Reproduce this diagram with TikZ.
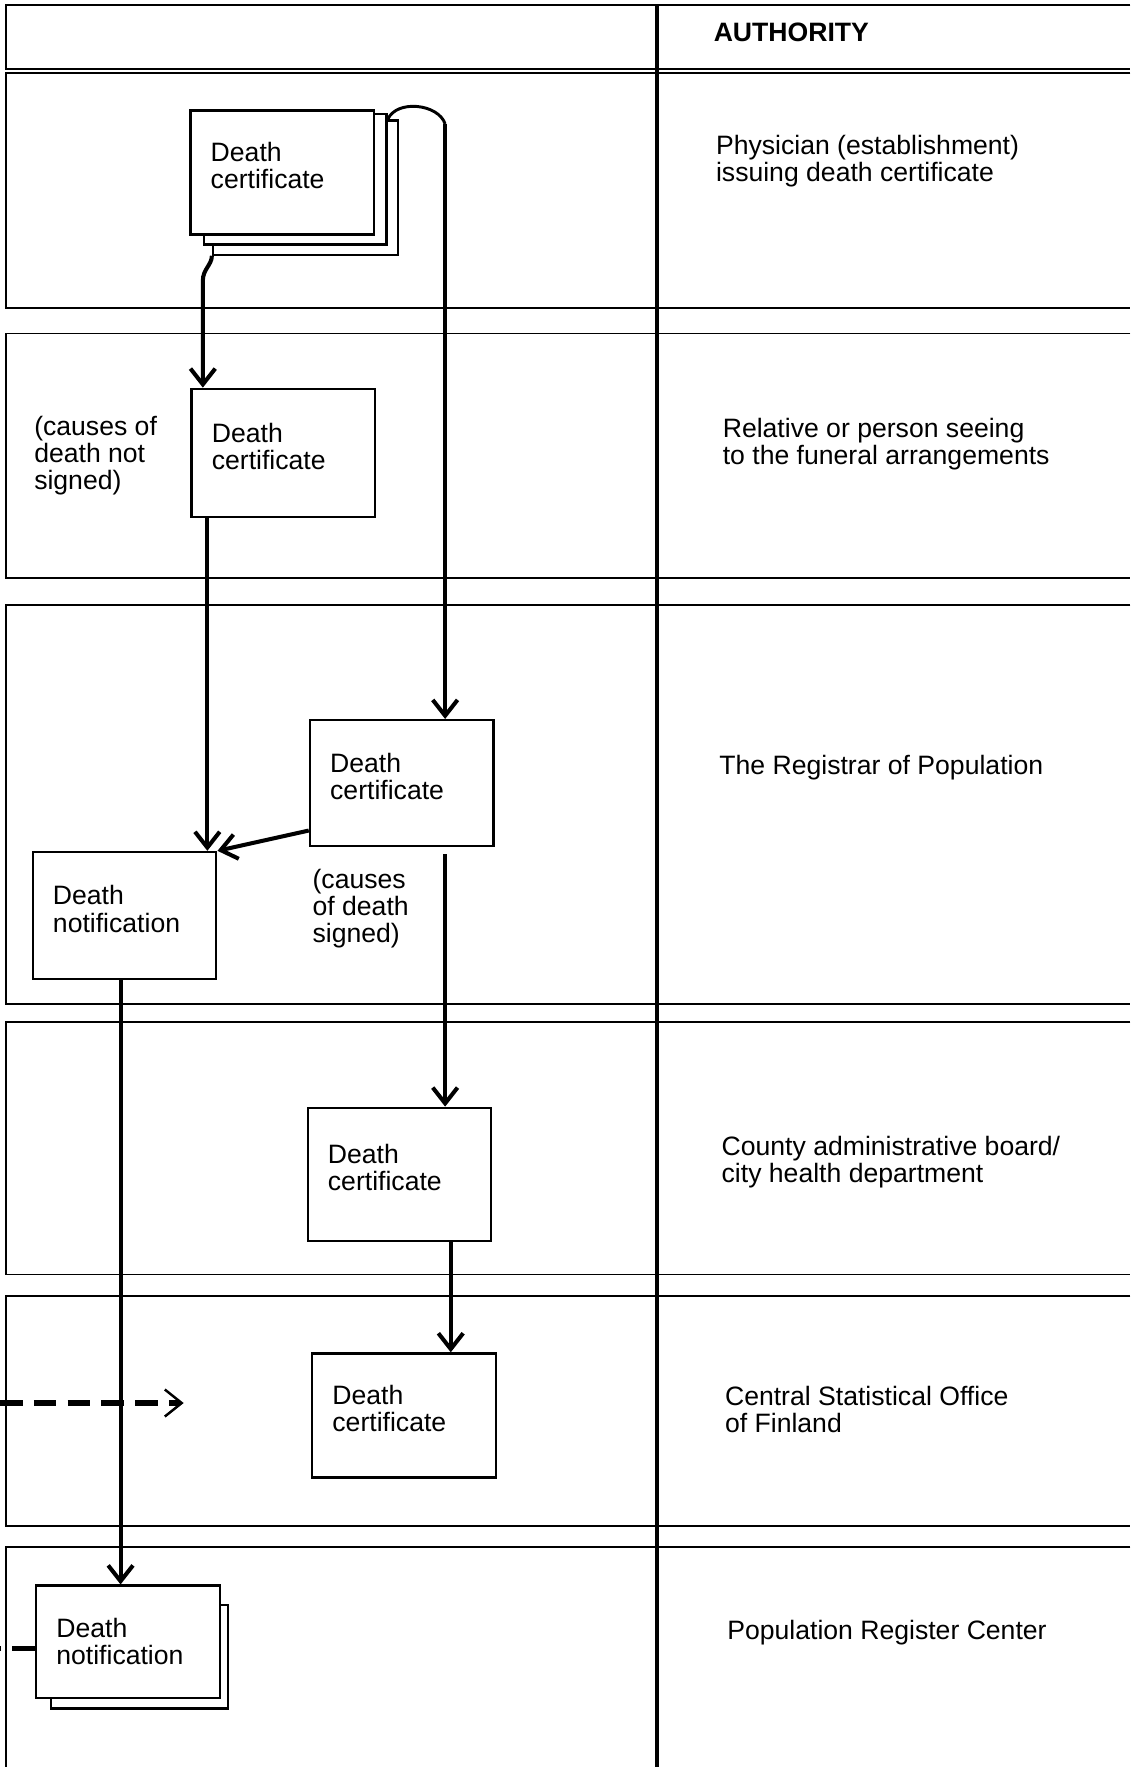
\documentclass[tikz,border=0pt]{standalone}
\usepackage{fontspec}
\setmainfont{Liberation Sans}
\usetikzlibrary{calc, arrows.meta}
\newcommand{\lift}{\rule[-6pt]{0pt}{6pt}}

\begin{document}
\begin{tikzpicture}[x=0.5pt, y=0.5pt, font=\fontsize{11.8}{12}\selectfont,
    rowline/.style={line width=0.8pt},
    divider/.style={line width=1.6pt},
    docbox/.style={draw, fill=white, line width=1pt, anchor=north west, inner xsep=9pt,
        text width=63.5pt, align=left, minimum height=56pt},
    sheet/.style={draw, fill=white, line width=1pt, anchor=north west, inner sep=0pt},
    flow/.style={line width=1.8pt, -{Straight Barb[length=7pt, width=11pt]}},
    dasharrow/.style={line width=2.4pt, dash pattern=on 10pt off 5pt,
        -{Straight Barb[length=7.5pt, width=12pt, line width=1.1pt]}},
    dashline/.style={line width=2.4pt, dash pattern=on 10pt off 5pt},
    authority/.style={anchor=west, align=left, inner sep=0pt}]
    \useasboundingbox (0,0) rectangle (1003,-1568);
    % rows of the table
    \foreach \rt/\rb in {4.5/61, 64.5/273.5, 296/513, 537/891, 907/1131, 1150/1354}
        \draw[rowline] (1003,-\rt) -- (5,-\rt) -- (5,-\rb) -- (1003,-\rb);
    \draw[rowline] (1003,-1373) -- (5,-1373) -- (5,-1568);
    \draw[divider] (583,-4.5) -- (583,-1568);
    % authorities
    \node[authority, font=\fontsize{11.8}{12}\selectfont\bfseries] (auth) at (633,-29) {AUTHORITY};
    \node[authority] (phys) at (635,-143) {Physician (establishment)\\issuing death certificate};
    \node[authority] (rel) at (641,-394) {Relative or person seeing\\to the funeral arrangements};
    \node[authority] (reg) at (638,-681) {The Registrar of Population};
    \node[authority] (cty) at (640,-1031) {County administrative board/\\city health department};
    \node[authority] (cso) at (643,-1251) {Central Statistical Office\\of Finland};
    \node[authority] (prc) at (645,-1449) {Population Register Center};
    % documents
    \node[sheet, minimum width=82pt, minimum height=59.5pt] (certPc) at (188,-106) {};
    \node[sheet, minimum width=81pt, minimum height=58pt] (certPb) at (180,-100) {};
    \node[docbox, minimum height=55pt] (certP) at (168,-97) {Death\\certificate\lift};
    \node[docbox, minimum height=57pt] (cert2) at (169,-344) {Death\\certificate\lift};
    \node[docbox] (cert3) at (274,-638) {Death\\certificate\lift};
    \node[docbox, minimum height=56.5pt] (notif1) at (28,-755) {Death\\notification\lift};
    \node[docbox, minimum height=59pt] (cert4) at (272,-982) {Death\\certificate\lift};
    \node[docbox, minimum height=55pt] (cert5) at (276,-1200) {Death\\certificate\lift};
    \node[sheet, minimum width=78.5pt, minimum height=46pt] (notif2b) at (44,-1423) {};
    \node[docbox, minimum height=50pt] (notif2) at (31,-1406) {Death\\notification};
    % notes
    \node[anchor=west, align=left, inner sep=0pt] (noteA) at (30,-404) {(causes of\\death not\\signed)};
    \node[anchor=west, align=left, inner sep=0pt] (noteB) at (277,-806) {(causes\\of death\\signed)};
    % flows
    \coordinate (arcend) at (395,-110);
    \coordinate (c2out) at ($(cert2.south west)+(15,0)$);
    \coordinate (c4out) at ($(cert4.south west)+(128,0)$);
    \coordinate (n1out) at ($(notif1.south west)+(79,0)$);
    \coordinate (csoIn) at (0,-1245);
    \coordinate (csoTip) at (163,-1245);
    \coordinate (prcIn) at (0,-1463);
    \draw[flow] (certPc.south west) .. controls +(0,-8) and +(0,10) .. ($(certPc.south west)+(-8,-22)$)
        -- ($(cert2.north west)+(11,0)$);
    \draw[line width=1.3pt] ($(certPb.north east)+(0,-6)$) .. controls +(8,18) and +(-6,18) .. (arcend);
    \draw[flow] (arcend) -- (arcend |- cert3.north);
    \draw[flow] (c2out) -- (c2out |- notif1.north);
    \draw[flow] ($(cert3.south west)+(0,15)$) -- (notif1.north east);
    \draw[flow, shorten <=3pt] (arcend |- cert3.south) -- (arcend |- cert4.north);
    \draw[flow] (c4out) -- (c4out |- cert5.north);
    \draw[flow] (n1out) -- (n1out |- notif2.north);
    \draw[dasharrow] (csoIn) -- (csoTip);
    \draw[dashline] (notif2.west |- prcIn) -- (prcIn);
\end{tikzpicture}
\end{document}
